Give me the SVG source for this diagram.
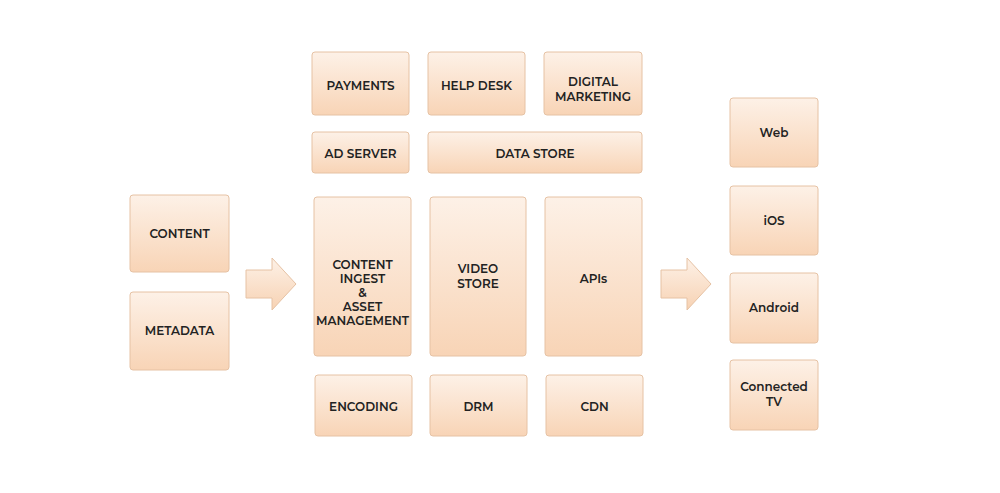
<svg xmlns="http://www.w3.org/2000/svg" width="1000" height="493" viewBox="0 0 1000 493">
<defs>
<linearGradient id="g" x1="0" y1="0" x2="0" y2="1"><stop offset="0" stop-color="#fdf1e7"/><stop offset="1" stop-color="#f8d4b6"/></linearGradient>
<linearGradient id="ga" x1="0" y1="0" x2="0" y2="1"><stop offset="0" stop-color="#fdf1e7"/><stop offset="1" stop-color="#f7d2b3"/></linearGradient>
<style>
rect{fill:url(#g);stroke:#e6c2a4;stroke-width:1}
text{font-family:Montserrat,"Open Sans","Liberation Sans",sans-serif;font-weight:600;font-size:12px;fill:#222;text-anchor:middle}
.arr{fill:url(#ga);stroke:#e6c2a4;stroke-width:1}
</style>
</defs>
<rect x="0" y="0" width="1000" height="493" style="fill:#fff;stroke:none"/>
<g id="payments"><rect x="312" y="52" width="97" height="63" rx="3"/><text x="360.5" y="90">PAYMENTS</text></g>
<g id="helpdesk"><rect x="428" y="52" width="97" height="63" rx="3"/><text x="476.5" y="90">HELP DESK</text></g>
<g id="digital"><rect x="544" y="52" width="98" height="63" rx="3"/><text x="593" y="86">DIGITAL</text><text x="593" y="101">MARKETING</text></g>
<g id="adserver"><rect x="312" y="132" width="97" height="41" rx="3"/><text x="360.5" y="158">AD SERVER</text></g>
<g id="datastore"><rect x="428" y="132" width="214" height="41" rx="3"/><text x="535" y="158">DATA STORE</text></g>
<g id="content"><rect x="130" y="195" width="99" height="77" rx="3"/><text x="179.5" y="238">CONTENT</text></g>
<g id="metadata"><rect x="130" y="292" width="99" height="78" rx="3"/><text x="179.5" y="335">METADATA</text></g>
<g id="ingest"><rect x="314" y="197" width="97" height="159" rx="3"/><text x="362.5" y="269">CONTENT</text><text x="362.5" y="283">INGEST</text><text x="362.5" y="297">&amp;</text><text x="362.5" y="311">ASSET</text><text x="362.5" y="325">MANAGEMENT</text></g>
<g id="videostore"><rect x="430" y="197" width="96" height="159" rx="3"/><text x="478" y="273">VIDEO</text><text x="478" y="288">STORE</text></g>
<g id="apis"><rect x="545" y="197" width="97" height="159" rx="3"/><text x="593.5" y="283">APIs</text></g>
<g id="encoding"><rect x="315" y="375" width="97" height="61" rx="3"/><text x="363.5" y="411">ENCODING</text></g>
<g id="drm"><rect x="430" y="375" width="97" height="61" rx="3"/><text x="478.5" y="411">DRM</text></g>
<g id="cdn"><rect x="546" y="375" width="97" height="61" rx="3"/><text x="594.5" y="411">CDN</text></g>
<g id="web"><rect x="730" y="98" width="88" height="69" rx="3"/><text x="774" y="137">Web</text></g>
<g id="ios"><rect x="730" y="186" width="88" height="69" rx="3"/><text x="774" y="225">iOS</text></g>
<g id="android"><rect x="730" y="273" width="88" height="70" rx="3"/><text x="774" y="312">Android</text></g>
<g id="ctv"><rect x="730" y="360" width="88" height="70" rx="3"/><text x="774" y="391">Connected</text><text x="774" y="406">TV</text></g>
<g id="connectors">
<polygon class="arr" points="246,270 272,270 272,258 296,284 272,310 272,298 246,298"/>
<polygon class="arr" points="661,270 687,270 687,258 711,284 687,310 687,298 661,298"/>
</g>
</svg>
